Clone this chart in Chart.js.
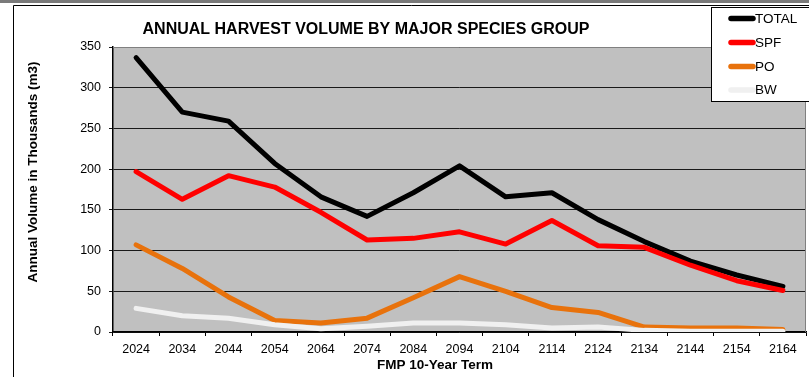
<!DOCTYPE html>
<html>
<head>
<meta charset="utf-8">
<script src="https://cdn.jsdelivr.net/npm/chart.js@4"></script>
<style>
  html, body { margin: 0; padding: 0; background: #fff; }
  #wrap { width: 809px; height: 377px; position: relative; }
</style>
</head>
<body>
<div id="wrap"><canvas id="c" width="809" height="377"></canvas></div>
<script>
// FMP 10-year terms
const terms = ['2024','2034','2044','2054','2064','2074','2084','2094','2104','2114','2124','2134','2144','2154','2164'];

// Annual harvest volume, thousands of m3
const total = [337, 270, 259, 207, 166, 142, 171, 204, 166, 171, 138, 111, 87, 70, 56];
const spf   = [197, 163, 192, 178, 147, 113, 115, 123, 108, 137, 106, 104, 82, 63, 51];
const po    = [107, 78, 43, 14, 11, 17, 42, 68, 50, 30, 24, 6, 5, 5, 3];
const bw    = [29, 20, 17, 9, 4, 7, 11, 11, 9, 5, 6, 2, 1, 1, 1];

const yTicks = [0, 50, 100, 150, 200, 250, 300, 350];

const seriesNames  = ['TOTAL', 'SPF', 'PO', 'BW'];
const seriesColors = ['#000000', '#ff0000', '#e8720c', '#f0f0f0'];

const FONT = 'Arial, "Liberation Sans", sans-serif';

// Page frame, title, axis titles and the boxed legend
const decor = {
  id: 'decor',
  beforeDraw(chart) {
    const ctx = chart.ctx;
    ctx.save();
    ctx.fillStyle = '#ffffff';
    ctx.fillRect(0, 0, chart.width, chart.height);
    ctx.fillStyle = '#7a7a7a';
    ctx.fillRect(0, 0, chart.width, 3);
    ctx.strokeStyle = '#000';
    ctx.lineWidth = 1;
    ctx.beginPath();
    ctx.moveTo(13.5, chart.height);
    ctx.lineTo(13.5, 5.5);
    ctx.lineTo(chart.width, 5.5);
    ctx.stroke();
    const a = chart.chartArea;
    ctx.fillStyle = '#c0c0c0';
    ctx.fillRect(a.left, a.top, a.right - a.left, a.bottom - a.top);
    ctx.restore();
  },
  afterDraw(chart) {
    const ctx = chart.ctx;
    const a = chart.chartArea;
    ctx.save();
    // plot border top/right
    ctx.strokeStyle = '#808080';
    ctx.lineWidth = 1;
    ctx.beginPath();
    ctx.moveTo(a.left, a.top + 0.5);
    ctx.lineTo(a.right - 0.5, a.top + 0.5);
    ctx.lineTo(a.right - 0.5, a.bottom);
    ctx.stroke();

    ctx.fillStyle = '#000';
    ctx.textAlign = 'center';
    ctx.textBaseline = 'middle';
    ctx.font = 'bold 16px ' + FONT;
    ctx.fillText('ANNUAL HARVEST VOLUME BY MAJOR SPECIES GROUP', 366, 30);

    ctx.font = 'bold 13.5px ' + FONT;
    ctx.fillText('FMP 10-Year Term', 435, 365);

    ctx.save();
    ctx.translate(33, 172);
    ctx.rotate(-Math.PI / 2);
    ctx.fillText('Annual Volume in Thousands (m3)', 0, 0);
    ctx.restore();

    // legend box
    ctx.fillStyle = '#fff';
    ctx.fillRect(711, 7, 100, 95);
    ctx.strokeStyle = '#000';
    ctx.strokeRect(711.5, 7.5, 110, 94);
    ctx.font = '13.5px ' + FONT;
    ctx.textAlign = 'left';
    const rows = [18.5, 42.5, 66.5, 90];
    chart.data.datasets.forEach((ds, i) => {
      ctx.strokeStyle = ds.borderColor;
      ctx.lineWidth = 5.5;
      ctx.lineCap = 'round';
      ctx.beginPath();
      ctx.moveTo(731, rows[i]);
      ctx.lineTo(753, rows[i]);
      ctx.stroke();
      ctx.fillStyle = '#000';
      ctx.fillText(ds.label, 755, rows[i] + 0.5);
    });
    ctx.restore();
  }
};

const values = [total, spf, po, bw];

new Chart(document.getElementById('c'), {
  type: 'line',
  data: {
    labels: terms,
    datasets: seriesNames.map((name, i) => ({
      label: name,
      data: values[i],
      borderColor: seriesColors[i],
      backgroundColor: seriesColors[i],
      borderWidth: 5,
      pointRadius: 0,
      tension: 0,
      fill: false,
      order: seriesNames.length - i,
      borderJoinStyle: 'round',
      borderCapStyle: 'round'
    }))
  },
  options: {
    responsive: false,
    animation: false,
    devicePixelRatio: 1,
    layout: { padding: { left: 0, top: 47, right: 3, bottom: 0 } },
    plugins: {
      legend: { display: false },
      title: { display: false },
      tooltip: { enabled: false }
    },
    scales: {
      x: {
        type: 'category',
        offset: true,
        grid: {
          offset: true,
          drawOnChartArea: false,
          drawTicks: true,
          tickLength: 4,
          color: '#000'
        },
        border: { color: '#000', width: 1.5 },
        ticks: {
          color: '#000',
          font: { family: FONT, size: 12.5 },
          padding: 6,
          maxRotation: 0,
          autoSkip: false
        },
        afterFit(scale) { scale.height = 45; }
      },
      y: {
        min: 0,
        max: 350,
        afterBuildTicks(scale) { scale.ticks = yTicks.map(v => ({ value: v })); },
        grid: {
          color: '#1a1a1a',
          lineWidth: 1,
          drawTicks: true,
          tickLength: 4
        },
        border: { color: '#000', width: 1.5 },
        ticks: {
          color: '#000',
          font: { family: FONT, size: 12.5 },
          padding: 8
        },
        afterFit(scale) { scale.width = 113; }
      }
    }
  },
  plugins: [decor]
});
</script>
</body>
</html>
